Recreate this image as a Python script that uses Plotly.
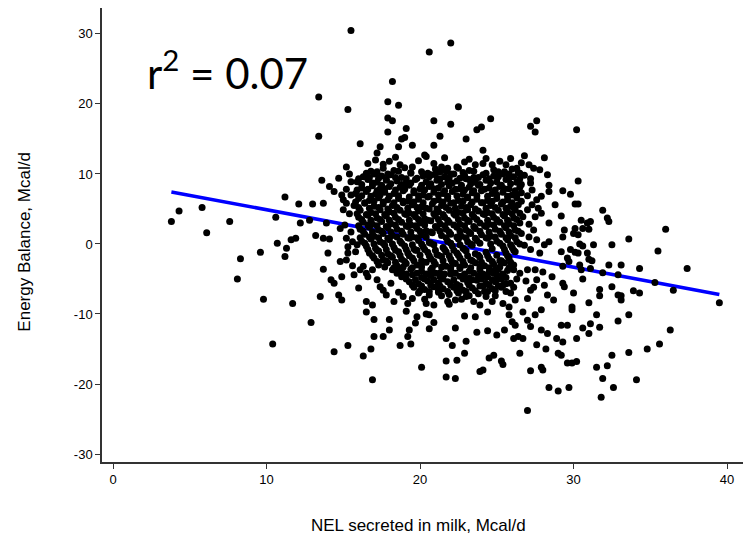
import plotly.graph_objects as go

# ---- data (NEL in Mcal/d, energy balance in Mcal/d) ----
upper_nel = [15.5, 18.2, 13.4, 15.3, 17.9, 18.6, 17.9, 18.2, 17.9, 19.1, 13.4, 16.1, 19.0, 18.8, 17.4, 17.2, 17.1, 18.6, 19.5, 15.2, 18.0, 18.7, 19.5,
             20.6, 22.0, 22.5, 20.9, 22.0, 24.6, 24.0, 23.7, 21.3, 23.0, 20.9, 27.2, 27.6, 27.5, 20.3, 20.4, 24.1, 24.3, 23.2, 26.8, 28.1, 21.4, 21.8, 22.4, 24.1, 24.7, 25.2, 25.6, 26.3, 27.1, 27.4,
             30.2, 26.5, 27.8, 28.3, 20.1, 20.7]
upper_eb = [30.5, 23.2, 21.0, 19.2, 20.3, 19.8, 18.0, 17.6, 16.0, 16.5, 15.4, 14.3, 15.2, 15.0, 13.9, 13.0, 12.0, 13.9, 14.1, 11.0, 11.8, 11.3, 11.0,
            27.4, 28.7, 19.6, 17.6, 17.1, 17.9, 16.7, 16.3, 15.4, 15.0, 14.1, 16.8, 17.6, 16.0, 12.7, 12.5, 13.4, 12.2, 12.1, 12.6, 12.3, 11.0, 10.8, 11.0, 11.5, 11.3, 11.8, 11.3, 10.8, 11.3, 10.8,
            16.3, 10.1, 10.6, 9.9, 10.3, 9.9]

left_nel = [4.3, 3.8, 5.8, 6.1, 7.6, 10.6, 10.7, 9.6, 8.3, 8.1, 9.8, 10.4,
            11.2, 12.1, 13.0, 13.7, 13.6, 14.1, 14.4, 14.7, 14.9, 15.0, 15.2, 15.5,
            12.2, 12.8, 13.9, 14.8, 11.9, 11.6, 11.3, 11.2, 13.2, 13.7, 14.1,
            15.2, 15.6, 15.3, 15.9, 15.8, 15.3, 14.0, 14.8, 13.7, 14.2, 14.4, 14.9,
            16.0, 16.1, 16.3, 16.5, 16.6, 16.9, 17.2, 13.5, 14.7, 14.9, 11.7,
            16.5, 16.9, 17.4, 17.6, 17.8, 18.3, 18.6, 18.9, 19.2]
left_eb = [4.7, 3.2, 5.2, 1.6, 3.2, 3.8, 0.1, -1.2, -2.1, -5.0, -7.9, -14.3,
           6.7, 5.7, 5.7, 5.8, 9.1, 8.2, 7.5, 9.4, 7.0, 6.3, 5.8, 8.9,
           3.0, 3.4, 3.0, 2.2, 0.8, 0.6, -0.6, -1.8, 1.2, 0.8, 0.7,
           0.8, 0.3, -0.4, -0.1, -1.1, -1.3, -1.3, -2.5, -3.6, -5.1, -5.6, -4.7,
           -6.3, -3.7, -3.2, -4.2, -4.7, -3.7, -5.1, -7.5, -7.3, -8.0, -8.5,
           -8.2, -8.7, -6.1, -6.6, -7.3, -8.2, -3.5, -7.5, -8.5]

lower_nel = [12.9, 14.4, 15.3, 16.3, 16.8, 16.9, 17.0, 17.6, 18.0, 18.0, 17.0, 16.5, 18.7, 19.4, 19.2, 19.3, 19.7, 19.8, 19.1, 20.1,
             20.4, 20.6, 20.9, 20.6, 21.7, 22.1, 22.3, 23.0, 22.9, 22.9, 22.4, 21.7, 21.7, 22.3, 23.7, 23.6, 24.4, 24.4, 25.0, 24.5, 24.8, 25.3, 25.4, 23.9, 24.1,
             25.5, 25.8, 26.0, 26.2, 26.1, 26.4, 26.7, 26.5, 27.0, 27.2, 26.7, 27.5, 27.9, 27.6, 28.2, 27.2, 27.9, 28.0, 27.9, 28.3, 28.9, 29.0, 28.4, 29.0, 27.0,
             29.9, 31.5, 33.6, 32.9, 29.2, 29.6, 30.6, 31.1, 31.7, 31.0, 30.2, 29.3, 36.3, 35.6, 34.8, 33.6, 32.5, 29.2, 29.6, 29.9, 30.2, 31.5, 32.2, 31.9, 32.6, 34.1, 31.8, 29.7]
lower_eb = [-11.2, -15.4, -14.5, -16.0, -15.0, -19.4, -13.2, -13.2, -12.3, -10.8, -10.8, -9.7, -14.5, -14.3, -13.2, -12.3, -11.3, -10.4, -9.6, -17.6,
            -10.0, -10.1, -11.2, -12.1, -13.5, -14.5, -12.0, -13.9, -10.3, -15.6, -16.6, -16.7, -19.0, -19.2, -12.6, -10.4, -12.4, -9.7, -13.0, -16.3, -15.9, -16.7, -17.2, -18.2, -18.0,
            -12.3, -10.1, -11.1, -11.6, -13.5, -13.2, -13.5, -15.6, -10.9, -11.8, -9.7, -10.1, -9.4, -14.4, -15.0, -18.1, -17.6, -18.0, -12.3, -12.8, -13.5, -15.6, -20.5, -21.0, -23.8,
            -9.4, -10.1, -10.1, -11.0, -11.6, -11.6, -12.0, -11.4, -11.9, -12.8, -13.5, -14.0, -12.3, -14.3, -15.0, -15.5, -15.9, -15.9, -17.0, -17.0, -16.8, -17.6, -17.4, -19.2, -20.5, -19.4, -21.9, -20.5]

right_nel = [30.3, 29.3, 29.8, 30.1, 30.3, 31.9, 32.2, 32.3, 29.2, 30.5, 30.9, 31.1, 31.0, 30.6, 29.4, 30.1, 30.0, 30.3, 29.3, 36.0,
             33.6, 32.5, 31.3, 30.4, 30.6, 29.8, 30.1, 30.3, 29.2, 35.5, 30.9, 31.0, 31.2, 29.6, 29.7, 29.3, 30.4, 30.5, 32.3, 33.1,
             34.3, 37.4, 31.1, 31.9, 32.9, 35.3, 36.5, 39.5, 30.6, 29.3, 29.4, 32.5, 31.7, 31.7, 30.0, 32.9, 33.1, 33.1, 33.9, 34.3, 31.0, 29.9,
             27.2, 27.3, 28.4, 28.4, 28.8, 28.4, 27.6, 27.7, 27.0, 26.7, 26.5, 27.5, 28.4, 28.1, 27.8, 27.4, 27.1,
             27.0, 27.5, 28.0, 28.6, 27.6, 28.1, 27.2, 27.0, 28.3, 28.7, 25.9, 26.2, 25.4, 25.8, 24.3, 24.7, 23.0, 23.5, 23.9,
             21.4, 21.8, 22.3, 20.4, 20.9, 25.0, 25.4, 25.9, 26.1, 26.5, 24.3, 24.9]
right_eb = [9.0, 7.6, 7.1, 5.7, 5.7, 4.8, 3.7, 3.2, 4.0, 3.4, 3.0, 3.2, 2.1, 2.2, 2.0, 2.2, 1.5, 1.3, 1.0, 2.1,
            0.7, -0.1, -0.1, 0.0, -0.3, -0.8, -1.2, -1.3, -1.1, -1.0, -1.3, -2.2, -2.4, -2.0, -2.5, -3.2, -3.0, -3.7, -3.0, -3.0,
            -3.5, -3.5, -3.5, -4.1, -4.4, -5.5, -6.6, -8.4, -5.0, -5.6, -6.1, -6.1, -6.5, -7.4, -7.0, -7.3, -7.4, -8.0, -6.7, -7.0, -8.4, -9.0,
            8.7, 7.7, 8.4, 7.5, 5.6, 3.0, 6.3, 5.1, 4.9, 3.9, 3.0, 3.9, 0.3, -0.1, -1.3, 2.0, 1.0,
            -3.7, -3.7, -4.0, -4.7, -5.1, -5.9, -6.6, -7.8, -7.3, -8.0, -7.0, -8.0, -8.5, -9.0, -7.5, -8.2, -7.5, -8.2, -8.7,
            -7.4, -8.2, -8.0, -8.5, -8.7, -5.1, -5.9, -5.6, -3.7, -4.2, -4.7, -3.7]

# ragged rim around the dense cloud
edge_nel = [16.6, 17.6, 19.9, 20.9, 22.9, 23.6, 25.9, 26.6, 18.4, 21.6,
            15.4, 15.1, 15.5, 15.2, 15.6, 15.5, 15.2, 15.7, 15.4, 15.0,
            27.2, 27.0, 27.9, 27.3, 27.9, 27.1, 27.6, 27.2, 26.9, 27.4,
            18.6, 19.5, 20.3, 22.7, 24.9, 25.6, 26.1, 26.3, 18.1, 21.9]
edge_eb = [11.5, 11.4, 11.9, 11.5, 11.7, 11.3, 12.2, 11.6, 12.4, 12.3,
           4.3, 2.7, 1.7, -2.3, -3.1, 7.0, 7.8, -4.4, 10.0, 4.9,
           9.3, 6.9, 6.8, 5.6, 4.4, 2.8, 0.6, -0.8, -5.3, -6.2,
           -6.9, -7.8, -7.9, -7.9, -7.4, -6.8, -6.2, -5.0, -5.6, -8.6]

# dense central cloud (dots overlap into a near-solid mass; estimated row by row)
core_nel = [
    16.8, 17.6, 18.3, 19.0, 21.0, 21.7, 22.5, 23.2, 24.8, 25.5, 26.0,
    16.3, 17.0, 17.5, 18.1, 18.8, 19.4, 20.2, 21.0, 21.6, 22.2, 22.9, 23.5, 24.1, 24.8, 25.4, 26.1, 26.8,
    15.9, 16.6, 17.2, 17.8, 18.5, 19.1, 19.7, 20.4, 21.1, 21.8, 22.4, 23.0, 23.6, 24.3, 25.0, 25.6, 26.3,
    16.2, 16.9, 17.4, 18.0, 18.7, 19.3, 20.0, 20.6, 21.2, 21.9, 22.6, 23.2, 23.8, 24.5, 25.2, 25.8, 26.5,
    15.8, 16.5, 17.1, 17.7, 18.3, 18.9, 19.6, 20.2, 20.9, 21.5, 22.1, 22.8, 23.4, 24.0, 24.7, 25.4, 26.0, 26.6,
    16.0, 16.7, 17.3, 17.9, 18.6, 19.2, 19.9, 20.5, 21.2, 21.8, 22.5, 23.1, 23.7, 24.4, 25.0, 25.7, 26.3,
    15.7, 16.4, 17.0, 17.6, 18.2, 18.9, 19.5, 20.1, 20.8, 21.4, 22.0, 22.7, 23.3, 24.0, 24.6, 25.3, 25.9, 26.4,
    16.1, 16.8, 17.4, 18.0, 18.7, 19.3, 19.9, 20.6, 21.2, 21.9, 22.5, 23.1, 23.8, 24.4, 25.1, 25.7, 26.2,
    16.0, 16.6, 17.2, 17.8, 18.4, 19.1, 19.7, 20.3, 21.0, 21.6, 22.3, 22.9, 23.5, 24.2, 24.8, 25.5, 26.1,
    16.3, 16.9, 17.5, 18.1, 18.8, 19.4, 20.0, 20.7, 21.3, 21.9, 22.6, 23.2, 23.9, 24.5, 25.2, 25.8,
    16.1, 16.7, 17.3, 17.9, 18.5, 19.2, 19.8, 20.4, 21.1, 21.7, 22.4, 23.0, 23.6, 24.3, 24.9, 25.6, 26.2,
    16.4, 17.0, 17.6, 18.2, 18.9, 19.5, 20.1, 20.8, 21.4, 22.0, 22.7, 23.3, 24.0, 24.6, 25.3, 25.9, 26.6,
    16.2, 16.8, 17.4, 18.0, 18.7, 19.3, 19.9, 20.6, 21.8, 22.5, 23.1, 23.7, 24.4, 25.0, 25.7, 26.3,
    16.5, 17.1, 17.7, 18.3, 19.0, 19.6, 20.2, 20.9, 21.5, 22.1, 22.8, 23.4, 24.7, 25.4, 26.0, 26.8,
    16.7, 17.3, 17.9, 18.6, 19.2, 19.8, 20.5, 21.1, 21.7, 22.4, 23.0, 23.6, 24.3, 25.6, 26.2,
    17.0, 17.6, 18.2, 18.8, 19.5, 20.1, 20.7, 21.4, 22.0, 22.6, 23.3, 23.9, 24.5, 25.2, 25.8,
    17.3, 17.9, 18.5, 19.1, 19.8, 20.4, 21.0, 21.7, 22.3, 22.9, 23.6, 24.2, 24.8, 25.5, 26.1,
    18.2, 18.8, 19.4, 20.1, 20.7, 21.3, 22.0, 22.6, 23.2, 23.9, 24.5, 25.1, 25.7,
    18.8, 19.5, 20.1, 20.7, 21.3, 22.0, 22.6, 23.2, 23.8, 24.4, 25.0, 25.6,
    19.3, 19.9, 20.5, 21.2, 21.8, 22.4, 23.1, 23.7, 24.3, 24.9, 25.6,
    19.6, 20.3, 20.9, 21.5, 22.2, 22.8, 23.4, 24.1, 24.7, 25.3,
    19.9, 20.6, 21.2, 21.9, 22.5, 23.2, 23.8, 24.4,
]
core_eb = [
    10.4, 10.8, 10.5, 10.9, 10.7, 10.4, 10.8, 10.5, 10.6, 10.3, 10.7,
    9.6, 10.0, 9.7, 9.9, 9.5, 10.1, 9.7, 9.9, 9.6, 10.0, 9.8, 9.5, 9.9, 9.7, 10.0, 9.6, 9.8,
    8.9, 9.2, 8.8, 9.1, 9.0, 8.7, 9.2, 8.9, 9.1, 8.8, 9.0, 9.3, 8.8, 9.1, 8.9, 9.2, 8.8,
    8.0, 8.3, 7.9, 8.2, 8.1, 8.4, 7.9, 8.2, 8.0, 8.3, 7.9, 8.1, 8.4, 8.0, 8.2, 7.9, 8.1,
    7.2, 7.5, 7.1, 7.4, 7.2, 7.6, 7.3, 7.0, 7.4, 7.2, 7.5, 7.1, 7.3, 7.6, 7.2, 7.4, 7.0, 7.3,
    6.5, 6.2, 6.6, 6.3, 6.5, 6.1, 6.4, 6.7, 6.3, 6.5, 6.2, 6.6, 6.4, 6.2, 6.5, 6.3, 6.6,
    5.5, 5.8, 5.4, 5.7, 5.5, 5.9, 5.6, 5.3, 5.7, 5.5, 5.8, 5.4, 5.6, 5.9, 5.5, 5.7, 5.4, 5.6,
    4.8, 4.5, 4.9, 4.6, 4.8, 4.4, 4.7, 5.0, 4.6, 4.8, 4.5, 4.9, 4.7, 4.5, 4.8, 4.6, 4.9,
    3.8, 4.1, 3.7, 4.0, 3.8, 4.2, 3.9, 3.6, 4.0, 3.8, 4.1, 3.7, 3.9, 4.2, 3.8, 4.0, 3.7,
    3.1, 2.8, 3.2, 2.9, 3.1, 2.7, 3.0, 3.3, 2.9, 3.1, 2.8, 3.2, 3.0, 2.8, 3.1, 2.9,
    2.1, 2.4, 2.0, 2.3, 2.1, 2.5, 2.2, 1.9, 2.3, 2.1, 2.4, 2.0, 2.2, 2.5, 2.1, 2.3, 2.0,
    1.4, 1.1, 1.5, 1.2, 1.4, 1.0, 1.3, 1.6, 1.2, 1.4, 1.1, 1.5, 1.3, 1.1, 1.4, 1.2, 1.5,
    0.4, 0.7, 0.3, 0.6, 0.4, 0.8, 0.5, 0.2, 0.4, 0.7, 0.3, 0.5, 0.8, 0.4, 0.6, 0.3,
    -0.3, -0.6, -0.2, -0.5, -0.3, -0.7, -0.4, -0.1, -0.5, -0.3, -0.6, -0.2, -0.7, -0.3, -0.5, -0.2,
    -1.3, -1.0, -1.4, -1.1, -1.3, -0.9, -1.2, -1.5, -1.1, -1.3, -1.0, -1.4, -1.2, -1.3, -1.1,
    -2.0, -2.3, -1.9, -2.2, -2.0, -2.4, -2.1, -1.8, -2.2, -2.0, -2.3, -1.9, -2.1, -2.4, -2.0,
    -3.0, -2.7, -3.1, -2.8, -3.0, -2.6, -2.9, -3.2, -2.8, -3.0, -2.7, -3.1, -2.9, -2.7, -3.0,
    -3.7, -4.0, -3.6, -3.9, -3.7, -4.1, -3.8, -3.5, -3.9, -3.7, -4.0, -3.6, -3.8,
    -4.7, -4.4, -4.8, -4.5, -4.7, -4.3, -4.6, -4.9, -4.5, -4.7, -4.4, -4.8,
    -5.4, -5.7, -5.3, -5.6, -5.4, -5.8, -5.5, -5.2, -5.6, -5.4, -5.7,
    -6.2, -6.5, -6.1, -6.4, -6.2, -6.6, -6.3, -6.0, -6.4, -6.2,
    -7.0, -7.3, -6.9, -7.2, -7.0, -7.4, -7.1, -6.8,
]

# second layer of the dense cloud, lying between the rows above
core2_nel = [
    16.5, 17.2, 17.9, 18.6, 19.4, 20.5, 21.3, 22.0, 22.8, 23.5, 24.3, 25.1, 25.8, 26.4,
    16.0, 16.7, 17.3, 17.8, 18.4, 19.1, 19.8, 20.6, 21.3, 21.9, 22.6, 23.2, 23.8, 24.5, 25.1, 25.8, 26.5,
    16.2, 16.9, 17.5, 18.1, 18.8, 19.4, 20.1, 20.7, 21.4, 22.1, 22.7, 23.3, 23.9, 24.6, 25.3, 25.9, 26.6,
    15.9, 16.6, 17.2, 17.7, 18.4, 19.0, 19.6, 20.3, 20.9, 21.6, 22.3, 22.9, 23.5, 24.2, 24.9, 25.5, 26.2,
    16.2, 16.8, 17.4, 18.0, 18.6, 19.3, 19.9, 20.6, 21.2, 21.8, 22.4, 23.1, 23.7, 24.4, 25.0, 25.7, 26.3,
    15.8, 16.4, 17.0, 17.6, 18.3, 18.9, 19.6, 20.2, 20.9, 21.5, 22.2, 22.8, 23.4, 24.1, 24.7, 25.4, 26.0, 26.6,
    16.0, 16.7, 17.3, 17.9, 18.5, 19.2, 19.8, 20.4, 21.1, 21.7, 22.3, 23.0, 23.6, 24.3, 24.9, 25.6, 26.1,
    15.9, 16.5, 17.1, 17.7, 18.3, 19.0, 19.6, 20.2, 20.9, 21.5, 22.2, 22.8, 23.4, 24.1, 24.7, 25.4, 26.0, 26.5,
    16.2, 16.8, 17.4, 18.0, 18.6, 19.3, 19.9, 20.5, 21.2, 21.8, 22.5, 23.1, 23.7, 24.4, 25.0, 25.7, 26.3,
    16.0, 16.6, 17.2, 17.8, 18.4, 19.1, 19.7, 20.3, 21.0, 21.6, 22.2, 22.9, 23.5, 24.2, 24.8, 25.5, 26.1,
    16.3, 16.9, 17.5, 18.1, 18.8, 19.4, 20.0, 20.7, 21.3, 21.9, 22.6, 23.2, 23.9, 24.5, 25.2, 25.8, 26.4,
    16.1, 16.7, 17.3, 17.9, 18.5, 19.2, 19.8, 20.4, 21.7, 22.4, 23.0, 23.6, 24.3, 24.9, 25.6, 26.2,
    16.4, 17.0, 17.6, 18.2, 18.8, 19.5, 20.1, 20.7, 22.0, 22.6, 23.3, 23.9, 24.6, 25.2, 25.9, 26.5,
    16.6, 17.2, 17.8, 18.4, 19.1, 19.7, 20.3, 21.0, 21.6, 22.2, 22.9, 25.5, 26.1,
    16.9, 17.5, 18.1, 18.7, 19.3, 20.0, 20.6, 21.2, 21.9, 22.5, 23.1, 23.8, 24.4, 25.0, 25.7,
    17.2, 17.8, 18.4, 19.0, 19.6, 20.2, 20.9, 21.5, 22.1, 22.8, 23.4, 24.0, 24.7, 25.3, 25.9,
    17.7, 18.3, 18.9, 19.5, 20.1, 20.8, 21.4, 22.0, 22.6, 23.3, 23.9, 24.5, 25.2, 25.8,
    18.5, 19.1, 19.8, 20.4, 21.0, 21.6, 22.3, 22.9, 23.5, 24.1, 24.8, 25.4,
    19.1, 19.7, 20.3, 20.9, 21.5, 22.2, 22.8, 23.4, 24.0, 24.7, 25.3,
    19.5, 20.1, 20.7, 21.3, 22.0, 22.6, 23.2, 23.9, 24.5, 25.1,
    20.0, 20.6, 21.2, 21.8, 22.4, 23.0, 23.6, 24.2, 24.9,
]
core2_eb = [
    10.1, 10.3, 10.0, 10.4, 10.2, 10.1, 10.3, 10.0, 10.2, 10.4, 10.1, 10.3, 10.0, 10.2,
    9.3, 9.5, 9.4, 9.2, 9.5, 9.3, 9.4, 9.6, 9.3, 9.5, 9.4, 9.2, 9.5, 9.3, 9.6, 9.4, 9.3,
    8.5, 8.7, 8.4, 8.6, 8.5, 8.7, 8.4, 8.6, 8.5, 8.7, 8.4, 8.6, 8.5, 8.7, 8.4, 8.6, 8.5,
    7.7, 7.8, 7.6, 7.9, 7.7, 7.8, 7.6, 7.7, 7.9, 7.6, 7.8, 7.7, 7.6, 7.8, 7.7, 7.9, 7.6,
    6.9, 6.8, 7.0, 6.8, 6.9, 6.7, 6.9, 6.8, 7.0, 6.8, 6.9, 6.7, 6.9, 6.8, 7.0, 6.8, 6.9,
    6.0, 5.9, 6.1, 6.0, 5.9, 6.1, 6.0, 5.9, 6.1, 6.0, 5.9, 6.1, 6.0, 5.9, 6.1, 6.0, 5.9, 6.1,
    5.2, 5.1, 5.2, 5.0, 5.2, 5.1, 5.2, 5.1, 5.0, 5.2, 5.1, 5.2, 5.0, 5.1, 5.2, 5.1, 5.2,
    4.3, 4.2, 4.3, 4.2, 4.4, 4.3, 4.2, 4.3, 4.3, 4.2, 4.3, 4.4, 4.2, 4.3, 4.3, 4.2, 4.3, 4.4,
    3.5, 3.4, 3.5, 3.4, 3.5, 3.4, 3.5, 3.4, 3.5, 3.4, 3.5, 3.4, 3.5, 3.4, 3.5, 3.4, 3.5,
    2.6, 2.7, 2.6, 2.5, 2.7, 2.6, 2.6, 2.7, 2.5, 2.6, 2.7, 2.6, 2.5, 2.6, 2.7, 2.6, 2.6,
    1.8, 1.7, 1.8, 1.7, 1.8, 1.7, 1.8, 1.7, 1.8, 1.7, 1.8, 1.7, 1.8, 1.7, 1.8, 1.7, 1.8,
    0.9, 1.0, 0.9, 0.8, 1.0, 0.9, 0.9, 1.0, 0.9, 1.0, 0.9, 0.8, 0.9, 1.0, 0.9, 0.9,
    0.1, 0.0, 0.1, 0.0, 0.1, -0.1, 0.0, 0.1, 0.1, -0.1, 0.0, 0.1, 0.0, 0.1, -0.1, 0.0,
    -0.8, -0.9, -0.8, -0.9, -0.8, -0.9, -0.8, -0.9, -0.8, -0.9, -0.8, -0.8, -0.9,
    -1.7, -1.6, -1.7, -1.6, -1.7, -1.6, -1.7, -1.6, -1.7, -1.6, -1.7, -1.6, -1.7, -1.6, -1.7,
    -2.5, -2.4, -2.6, -2.5, -2.4, -2.6, -2.5, -2.4, -2.6, -2.5, -2.4, -2.6, -2.5, -2.4, -2.6,
    -3.3, -3.4, -3.3, -3.4, -3.3, -3.4, -3.3, -3.4, -3.3, -3.4, -3.3, -3.4, -3.3, -3.4,
    -4.2, -4.3, -4.2, -4.3, -4.2, -4.3, -4.2, -4.3, -4.2, -4.3, -4.2, -4.3,
    -5.0, -5.1, -5.0, -5.1, -5.0, -5.1, -5.0, -5.1, -5.0, -5.1, -5.0,
    -5.9, -6.0, -5.9, -6.0, -5.9, -6.0, -5.9, -6.0, -5.9, -6.0,
    -6.7, -6.8, -6.7, -6.8, -6.7, -6.8, -6.7, -6.8, -6.7,
]

# regression line
fit_intercept = 8.99
fit_slope = -0.41
r2_label = "r<sup>2</sup> = 0.07"

x_ticks = [0, 10, 20, 30, 40]
x_ticklabels = ["0", "10", "20", "30", "40"]
y_ticks = [-30, -20, -10, 0, 10, 20, 30]
y_ticklabels = ["-30", "-20", "-10", "0", "10", "20", "30"]
x_title = "NEL secreted in milk, Mcal/d"
y_title = "Energy Balance, Mcal/d"

groups = [(upper_nel, upper_eb), (left_nel, left_eb), (lower_nel, lower_eb),
          (right_nel, right_eb), (edge_nel, edge_eb), (core_nel, core_eb),
          (core2_nel, core2_eb)]
for a, b in groups:
    assert len(a) == len(b)

nel = [v for a, _ in groups for v in a]
eb = [v for _, b in groups for v in b]

fit_x = [min(nel), max(nel)]
fit_y = [fit_intercept + fit_slope * v for v in fit_x]

fig = go.Figure()
fig.add_trace(go.Scatter(x=fit_x, y=fit_y, mode="lines",
                         line=dict(color="#0000FF", width=3.5),
                         hoverinfo="skip", showlegend=False))
fig.add_trace(go.Scatter(x=nel, y=eb, mode="markers",
                         marker=dict(color="black", size=7, line=dict(width=0)),
                         showlegend=False))

axis_common = dict(showgrid=False, zeroline=False, showline=True,
                   linecolor="#333333", linewidth=1.5, ticks="outside",
                   ticklen=5, tickwidth=1.2, tickcolor="#333333",
                   tickfont=dict(family="Liberation Sans, Arial", size=13, color="black"))

# the page body adds an 8 px margin, so the figure is 8 px smaller than the window
fig.update_layout(
    width=743, height=536,
    margin=dict(l=94, r=6, t=0, b=82),
    paper_bgcolor="white", plot_bgcolor="white",
    xaxis=dict(range=[-0.72, 41.17], tickvals=x_ticks, ticktext=x_ticklabels, **axis_common),
    yaxis=dict(range=[-31.14, 33.7], tickvals=y_ticks, ticktext=y_ticklabels, **axis_common),
    annotations=[
        dict(text=r2_label, xref="x", yref="y", x=2.1, y=24.9,
             xanchor="left", yanchor="middle", showarrow=False,
             font=dict(family="Lato", size=42, color="black")),
        dict(text=x_title, xref="paper", yref="paper", x=0.493, y=-0.139,
             xanchor="center", yanchor="middle", showarrow=False,
             font=dict(family="Liberation Sans, Arial", size=17, color="black")),
        dict(text=y_title, xref="paper", yref="paper", x=-0.12, y=0.485,
             xanchor="center", yanchor="middle", showarrow=False, textangle=-90,
             font=dict(family="Liberation Sans, Arial", size=17, color="black")),
    ],
)

fig.write_html("out.html")
